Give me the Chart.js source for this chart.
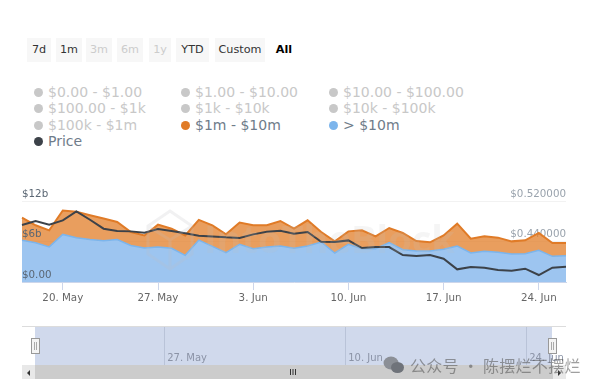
<!DOCTYPE html>
<html>
<head>
<meta charset="utf-8">
<script src="https://cdn.jsdelivr.net/npm/chart.js@4"></script>
<style>
    html, body { margin: 0; padding: 0; background: #fff; }
    body { width: 600px; height: 389px; position: relative; overflow: hidden; font-family: "DejaVu Sans", sans-serif; }
    .abs { position: absolute; }
    .btn { position: absolute; top: 38px; height: 24px; line-height: 24px; text-align: center; font-size: 11.2px; background: #f7f7f7; color: #333; }
    .btn.off { color: #ccc; }
    .btn.sel { background: none; color: #000; font-weight: 700; }
    .item { position: absolute; font-size: 14px; line-height: 16px; color: #c8c8c8; white-space: nowrap; }
    .item.on { color: #6f7c8a; }
    .item i { position: absolute; left: -14px; top: 4px; width: 9px; height: 9px; border-radius: 50%; background: #c8c8c8; }
    canvas { position: absolute; left: 0; }
    .handle { position: absolute; top: 338px; width: 7px; height: 14px; background: #f4f4f4; border: 1px solid #999; }
    .handle:after { content: ""; position: absolute; left: 2px; top: 3px; width: 1px; height: 8px; border-left: 1px solid #aaa; border-right: 1px solid #aaa; }
    .mark { position: absolute; left: 410px; top: 355px; font: 16px/20px "Noto Sans CJK SC", sans-serif; color: rgba(80, 80, 80, 0.55); white-space: nowrap; letter-spacing: 0.3px; }
</style>
</head>
<body>
<canvas id="main" width="600" height="130" style="top:180px"></canvas>
<canvas id="nav" width="600" height="50" style="top:326px"></canvas>
<div id="buttons"></div>
<div id="legend"></div>

<div class="abs" style="left:22px;top:326px;width:544px;height:1px;background:#dcdcdc"></div>
<div class="abs" style="left:35px;top:365px;width:518px;height:14px;background:#cccccc"></div>
<div class="abs" style="left:22px;top:365px;width:13px;height:14px;background:#e8e8e8"></div>
<div class="abs" style="left:553px;top:365px;width:13px;height:14px;background:#e8e8e8"></div>
<div class="abs" style="left:27px;top:370px;border:3px solid transparent;border-left:0;border-right:3px solid #333"></div>
<div class="abs" style="left:558px;top:370px;border:3px solid transparent;border-right:0;border-left:3px solid #333"></div>
<div class="abs" style="left:290px;top:369px;width:1px;height:6px;background:#333;box-shadow:2.5px 0 #333,5px 0 #333"></div>
<div class="handle" style="left:31px"></div>
<div class="handle" style="left:548px"></div>

<svg class="abs" style="left:383px;top:355px" width="22" height="20">
    <ellipse cx="8" cy="8" rx="7.5" ry="6.5" fill="#8b8f96"/>
    <ellipse cx="14.5" cy="12.5" rx="6.5" ry="5.5" fill="#6f737a"/>
</svg>
<div class="mark">公众号 · 陈摆烂不摆烂</div>

<script>
const dates = [
    '17. May', '18. May', '19. May', '20. May', '21. May', '22. May', '23. May', '24. May', '25. May', '26. May',
    '27. May', '28. May', '29. May', '30. May', '31. May', '1. Jun', '2. Jun', '3. Jun', '4. Jun', '5. Jun',
    '6. Jun', '7. Jun', '8. Jun', '9. Jun', '10. Jun', '11. Jun', '12. Jun', '13. Jun', '14. Jun', '15. Jun',
    '16. Jun', '17. Jun', '18. Jun', '19. Jun', '20. Jun', '21. Jun', '22. Jun', '23. Jun', '24. Jun', '25. Jun', '26. Jun'
];
// top of the orange band, $b
const oneToTenM = [
    9.53, 8.4, 7.65, 10.6, 10.4, 9.9, 9.4, 8.9, 7.4, 6.9, 8.5, 7.9, 6.9, 9.2,
    8.4, 7.06, 8.8, 8.4, 8.4, 9.04, 7.9, 9.14, 7.4, 6.02, 7.5, 7.65, 6.77, 8.0,
    7.26, 6.07, 5.88, 6.9, 8.64, 6.42, 6.77, 6.57, 6.02, 6.17, 7.26, 5.78, 5.78
];
const overTenM = [
    6.2, 5.8, 5.2, 7.05, 6.55, 6.3, 6.1, 6.3, 5.4, 5.05, 5.2, 5.0, 3.95, 6.2,
    5.28, 4.35, 5.58, 4.94, 5.19, 5.33, 5.0, 5.33, 5.93, 4.3, 5.58, 4.94, 4.94, 5.83,
    4.79, 4.59, 4.59, 4.84, 5.33, 4.3, 4.54, 4.4, 4.15, 4.2, 4.69, 3.8, 3.9
];
const price = [
    0.4725, 0.4804, 0.4732, 0.4817, 0.4995, 0.483, 0.4653, 0.4607, 0.46, 0.4574, 0.4646, 0.4607, 0.4561, 0.4515,
    0.4501, 0.4482, 0.4469, 0.4541, 0.4594, 0.4613, 0.4554, 0.4587, 0.4396, 0.439, 0.4422, 0.4271, 0.4291, 0.4291,
    0.4133, 0.4113, 0.4133, 0.4061, 0.385, 0.3896, 0.3883, 0.3837, 0.3824, 0.3863, 0.3738, 0.3883, 0.3903
];
const mainTicks = ['20. May', '27. May', '3. Jun', '10. Jun', '17. Jun', '24. Jun'];
const navTicks = ['27. May', '10. Jun', '24. Jun'];
const leftTicks = ['$0.00', '$6b', '$12b'];
const rightTicks = ['$0.360000', '$0.440000', '$0.520000'];

const rangeButtons = [
    ['7d', 27, 24, ''], ['1m', 56, 26, ''], ['3m', 86, 26, 'off'], ['6m', 117, 26, 'off'],
    ['1y', 149, 22, 'off'], ['YTD', 176, 33, ''], ['Custom', 215, 50, ''], ['All', 269, 30, 'sel']
];
const legendNames = [
    ['$0.00 - $1.00', '$1.00 - $10.00', '$10.00 - $100.00'],
    ['$100.00 - $1k', '$1k - $10k', '$10k - $100k'],
    ['$100k - $1m', '$1m - $10m', '> $10m'],
    ['Price']
];
const legendOn = { '$1m - $10m': '#e07b27', '> $10m': '#7cb5ec', 'Price': '#3c4249' };

const buttons = document.getElementById('buttons');
rangeButtons.forEach(([text, left, width, cls]) => {
    const b = document.createElement('div');
    b.className = 'btn ' + cls;
    b.style.left = left + 'px';
    b.style.width = width + 'px';
    b.textContent = text;
    buttons.appendChild(b);
});

const legend = document.getElementById('legend');
const colX = [48, 195, 343];
const rowY = [84, 100, 117, 133];
legendNames.forEach((row, r) => row.forEach((name, c) => {
    const el = document.createElement('div');
    el.className = 'item' + (legendOn[name] ? ' on' : '');
    el.style.left = colX[c] + 'px';
    el.style.top = rowY[r] + 'px';
    el.textContent = name;
    const dot = document.createElement('i');
    if (legendOn[name]) dot.style.background = legendOn[name];
    el.appendChild(dot);
    legend.appendChild(el);
}));

const font = { family: '"DejaVu Sans", sans-serif', size: 10.3 };

// faint logo and name over the plot
const watermark = {
    id: 'watermark',
    afterDatasetsDraw(chart) {
        const c = chart.ctx;
        c.save();
        c.strokeStyle = 'rgba(190, 190, 195, 0.22)';
        c.lineWidth = 3;
        c.beginPath();
        c.moveTo(170, 31); c.lineTo(192, 46); c.lineTo(192, 74); c.lineTo(170, 89); c.lineTo(148, 74); c.lineTo(148, 46); c.closePath();
        c.moveTo(148, 46); c.lineTo(170, 60); c.lineTo(192, 46);
        c.moveTo(170, 60); c.lineTo(170, 89);
        c.stroke();
        c.font = '700 38px "Open Sans", sans-serif';
        c.fillStyle = 'rgba(190, 190, 195, 0.16)';
        c.textAlign = 'left';
        c.textBaseline = 'middle';
        c.fillText('IntoTheBlock', 204, 62);
        c.restore();
    }
};

new Chart(document.getElementById('main'), {
    type: 'line',
    data: {
        labels: dates,
        datasets: [
            { label: 'Price', data: price, yAxisID: 'y1', borderColor: '#3c4249', borderWidth: 2, pointRadius: 0, fill: false, order: 0 },
            { label: '> $10m', data: overTenM, yAxisID: 'y', borderColor: '#7cb5ec', backgroundColor: '#9dc5f0', borderWidth: 1.5, pointRadius: 0, fill: 'origin', order: 1 },
            { label: '$1m - $10m', data: oneToTenM, yAxisID: 'y', borderColor: '#e07b27', backgroundColor: 'rgba(226, 128, 44, 0.76)', borderWidth: 2, pointRadius: 0, fill: 'origin', order: 2 }
        ]
    },
    plugins: [watermark],
    options: {
        responsive: false,
        animation: false,
        layout: { padding: { left: 22, right: 34, top: 21, bottom: 0 } },
        plugins: { legend: { display: false }, tooltip: { enabled: false } },
        scales: {
            x: {
                afterBuildTicks: scale => { scale.ticks = scale.ticks.filter(t => mainTicks.includes(dates[t.value])); },
                afterFit: scale => { scale.height = 28; },
                grid: { drawOnChartArea: false, color: '#ccd6eb', tickLength: 8 },
                border: { color: '#ccd6eb' },
                ticks: { autoSkip: false, maxRotation: 0, color: '#666', font, padding: 2 }
            },
            y: {
                position: 'left', min: 0, max: 12,
                afterBuildTicks: scale => { scale.ticks = [{ value: 0 }, { value: 6 }, { value: 12 }]; },
                grid: { display: false, drawTicks: false },
                border: { display: false },
                ticks: { mirror: true, padding: 0, labelOffset: -7, z: 2, color: '#5a6673', font, callback: (v, i) => leftTicks[i] }
            },
            y1: {
                position: 'right', min: 0.36, max: 0.52,
                afterBuildTicks: scale => { scale.ticks = [{ value: 0.36 }, { value: 0.44 }, { value: 0.52 }]; },
                grid: { color: '#f2f2f2', drawTicks: false },
                border: { display: false },
                ticks: { mirror: true, padding: 0, labelOffset: -7, z: -1, color: '#9aa3ad', font, callback: (v, i) => rightTicks[i] }
            }
        }
    }
});

const navBand = {
    id: 'navBand',
    beforeDraw(chart) {
        const { ctx, chartArea: a } = chart;
        ctx.fillStyle = '#d0d9ec';
        ctx.fillRect(a.left, a.top, a.right - a.left, a.bottom - a.top);
    }
};

new Chart(document.getElementById('nav'), {
    type: 'line',
    data: { labels: dates, datasets: [{ data: [], pointRadius: 0 }] },
    plugins: [navBand],
    options: {
        responsive: false,
        animation: false,
        layout: { padding: { left: 35, right: 48, top: 0, bottom: 0 } },
        plugins: { legend: { display: false }, tooltip: { enabled: false } },
        scales: {
            x: {
                afterBuildTicks: scale => { scale.ticks = scale.ticks.filter(t => navTicks.includes(dates[t.value])); },
                afterFit: scale => { scale.height = 11; },
                grid: { color: '#b9c3d8', drawTicks: false },
                border: { display: false },
                // mirror keeps the label from being clipped to the axis box
                ticks: { autoSkip: false, maxRotation: 0, mirror: true, align: 'start', padding: 1, labelOffset: 3, color: '#8b93a6', font: { family: font.family, size: 10 } }
            },
            y: { display: false, min: 0, max: 1 }
        }
    }
});
</script>
</body>
</html>
